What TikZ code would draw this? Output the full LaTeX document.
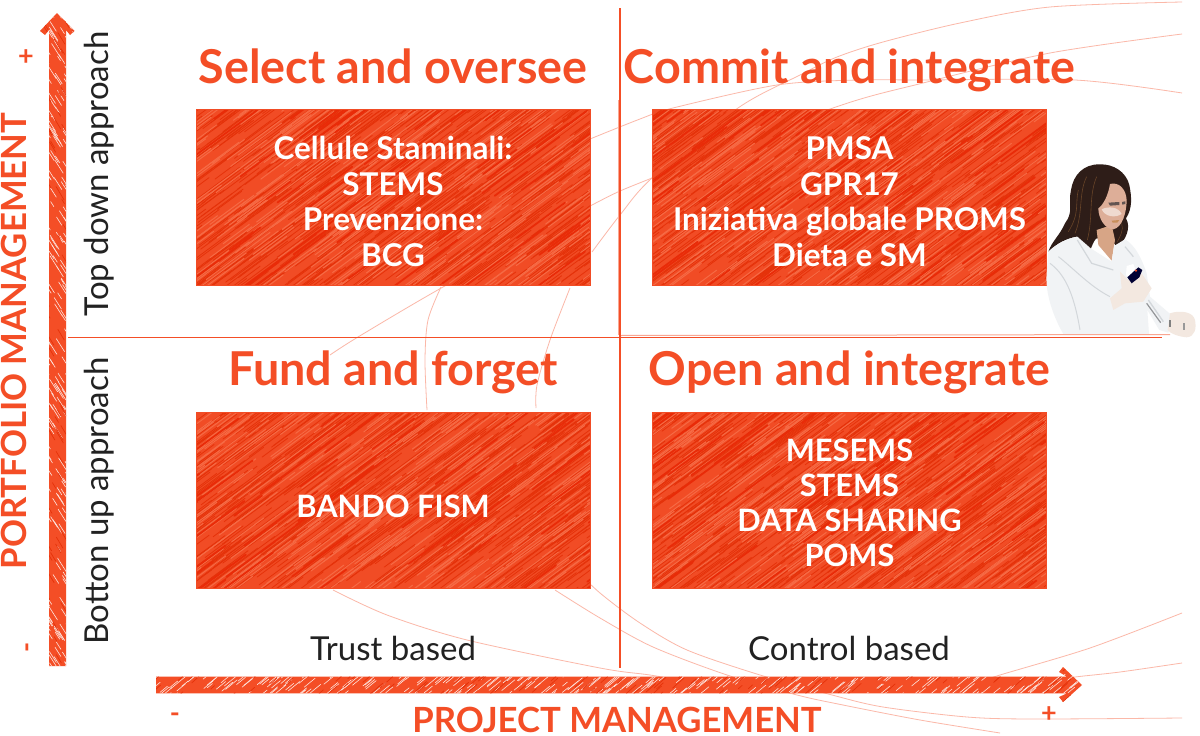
\documentclass[tikz,border=0pt]{standalone}
\usepackage{fontspec}
\setmainfont{Lato}
\definecolor{brand}{HTML}{F44E26}
\definecolor{boxbase}{HTML}{F14C25}
\definecolor{boxdark}{HTML}{E5320A}
\definecolor{boxlight}{HTML}{F66A45}
\definecolor{inkdark}{HTML}{222222}
\definecolor{hair}{HTML}{2E1D18}
\definecolor{skin}{HTML}{DDAE98}
\definecolor{coat}{HTML}{F1F3F5}
\definecolor{coatshade}{HTML}{D3D7DB}
\definecolor{glove}{HTML}{F3E8E0}
\newcommand{\streaks}[7]{% count, half w, half h, colour, width, dx, dy
  \begin{scope}[shift={(path picture bounding box.center)}]
  \foreach \s in {1,...,#1}{%
    \pgfmathsetmacro{\sx}{#2*rnd*2.4-1.2*#2}%
    \pgfmathsetmacro{\sy}{#3*rnd*2.4-1.2*#3}%
    \pgfmathsetmacro{\sk}{0.4+rnd}%
    \draw[#4,line width=#5,line cap=round] (\sx,\sy) -- +({#6*\sk},{#7*\sk});%
  }
  \end{scope}}
\newcommand{\boxtexture}{%
  \streaks{850}{198}{90}{boxdark}{0.8pt}{46}{-34}%
  \streaks{380}{198}{90}{boxlight}{1pt}{46}{-34}%
  \streaks{60}{198}{90}{boxdark!85!red}{1.8pt}{60}{-44}}
\tikzset{
  panel/.style={minimum width=394pt,minimum height=176pt,inner sep=0pt,fill=boxbase,
    draw=boxbase,line width=0.8pt,path picture={\boxtexture}},
  paneltext/.style={text=white,inner sep=0pt,align=center,
    font=\fontsize{31.4}{35.5}\selectfont\bfseries},
  capstext/.style={text=white,inner sep=0pt,align=center,
    font=\fontsize{30.8}{35}\selectfont\bfseries},
  quadtitle/.style={anchor=base,text=brand,font=\fontsize{46.7}{50}\selectfont\bfseries,inner sep=0pt},
  axistitle/.style={anchor=base,text=brand,font=\fontsize{34.7}{36}\selectfont\bfseries,inner sep=0pt,text depth=0pt},
  approach/.style={anchor=base,text=inkdark,font=\fontsize{33}{36}\selectfont,inner sep=0pt},
  sign/.style={text=brand,font=\fontsize{27}{27}\selectfont\bfseries,inner sep=0pt},
  axisline/.style={brand,line width=1.5pt},
  thread/.style={brand!40,line width=0.8pt,smooth},
  arrowbody/.style={fill=brand}
}
\begin{document}
\begin{tikzpicture}[x=1pt,y=-1pt]
\pgfmathsetseed{4217}
\useasboundingbox (0,0) rectangle (1200,736);
\fill[white] (0,0) rectangle (1200,736);

% thin threads behind everything
\draw[thread] plot coordinates {(1182,2) (1050,7) (960,23) (883,42) (837,57) (800,75) (738,108) (652,178) (620,215) (592,252)};
\draw[thread] plot coordinates {(1182,34) (1050,53) (923,83) (833,108) (652,178) (592,205) (443,287) (358,337) (330,355)};
\draw[thread] plot coordinates {(1182,93) (1075,80) (923,80) (857,80) (777,85) (673,108) (640,119) (590,139)};
\draw[thread] plot coordinates {(441,287) (428,320) (425,360) (427,410)};
\draw[thread] plot coordinates {(570,288) (550,340) (537,385) (536,408)};
\draw[thread] plot coordinates {(333,590) (387,615) (467,640) (600,668) (650,675) (690,682)};
\draw[thread] plot coordinates {(555,590) (600,618) (653,647) (727,675) (797,695) (843,705) (920,720) (1000,733)};
\draw[thread] plot coordinates {(573,567) (600,593) (640,623) (687,650) (760,675) (832,695) (883,707) (967,717) (1033,719) (1182,718)};
\draw[thread] plot coordinates {(1182,613) (1090,648) (1000,675) (980,682)};
\draw[thread] plot coordinates {(1182,663) (1120,672) (1075,677) (1060,680)};

% quadrant axes
\draw[brand!50,line width=1pt] (618.5,100) -- (618.5,335);
\draw[brand!50,line width=1pt] (620,335.5) -- (1170,334.5);
\draw[axisline] (620,8) -- (620,668);
\draw[axisline] (68,337.5) -- (1162,337.5);

% axis arrows
\path[arrowbody,path picture={%
    \streaks{420}{20}{330}{white!85!brand}{0.6pt}{7}{11}%
    \streaks{180}{20}{330}{boxdark}{0.7pt}{6}{10}}]
  (57,13) -- (74.5,31) -- (70,35) -- (66,30) -- (66,666) -- (49,666) -- (49,30) -- (45,35) -- (40,31) -- cycle;
\path[arrowbody,path picture={%
    \streaks{640}{470}{20}{white!85!brand}{0.6pt}{11}{-9}%
    \streaks{280}{470}{20}{boxdark}{0.7pt}{9}{-8}}]
  (156,676.7) -- (1067,676.7) -- (1059,672) -- (1063,667) -- (1082,685) -- (1063,702) -- (1059,697) -- (1067,693.3) -- (156,693.3) -- cycle;

% panels
\node[panel] (p1) at (393,197.5) {};
\node[panel] (p2) at (849.5,197.5) {};
\node[panel] (p3) at (393,500.5) {};
\node[panel] (p4) at (849.5,500.5) {};
\node[paneltext,yshift=-4pt] (p1t) at (p1) {Cellule Staminali:\\STEMS\\Prevenzione:\\BCG};
\node[paneltext,yshift=-4pt] (p2t) at (p2) {PMSA\\GPR17\\Iniziativa globale PROMS\\Dieta e SM};
\node[capstext,yshift=-5.5pt] (p3t) at (p3) {BANDO FISM};
\node[capstext,yshift=-2.5pt] (p4t) at (p4) {MESEMS\\STEMS\\DATA SHARING\\POMS};

% quadrant titles
\node[quadtitle] (t1) at (393,83.5) {Select and oversee};
\node[quadtitle] (t2) at (849.5,83.5) {Commit and integrate};
\node[quadtitle] (t3) at (393,385.5) {Fund and forget};
\node[quadtitle] (t4) at (849.5,385.5) {Open and integrate};

% axis labels
\node[axistitle,rotate=90] (ya) at (26,341) {PORTFOLIO MANAGEMENT};
\node[axistitle] (xa) at (617,732) {PROJECT MANAGEMENT};
\node[approach,rotate=90] (yt) at (108,174) {Top down approach};
\node[approach,rotate=90] (yb) at (108,501) {Botton up approach};
\node[approach] (xt) at (393,660) {Trust based};
\node[approach] (xc) at (849,660) {Control based};
\node[sign] (yp) at (26,58) {+};
\node[sign,rotate=90] (ym) at (30.5,647) {-};
\node[sign] (xm) at (175,718) {-};
\node[sign] (xp) at (1049,715) {+};

% the researcher
\begin{scope}[shift={(1000,140)},x=0.3333pt,y=-0.3333pt]
  % hair behind
  \fill[hair] (300,73) .. controls (250,72) and (220,105) .. (213,150)
     .. controls (204,190) and (222,215) .. (195,250)
     .. controls (180,285) and (155,305) .. (145,335)
     .. controls (170,310) and (200,295) .. (230,290)
     .. controls (245,300) and (255,320) .. (268,338)
     .. controls (275,320) and (280,305) .. (288,296)
     -- (330,290)
     .. controls (335,305) and (345,315) .. (355,322)
     .. controls (375,300) and (395,265) .. (378,235)
     .. controls (398,205) and (395,170) .. (388,135)
     .. controls (378,95) and (340,72) .. (300,73) -- cycle;
  \draw[hair!60!brown,line width=0.6pt] (260,110) .. controls (235,160) and (250,220) .. (225,280);
  \draw[hair!60!brown,line width=0.6pt] (290,110) .. controls (265,170) and (280,230) .. (262,300);
  \draw[hair!60!brown,line width=0.6pt] (235,150) .. controls (225,190) and (240,220) .. (205,275);
  \draw[hair!60!brown,line width=0.5pt] (365,250) .. controls (372,270) and (360,290) .. (352,305);
  % neck and face
  \fill[skin!80!brown] (290,270) -- (335,255) -- (345,300) -- (335,362) -- (295,315) -- cycle;
  \fill[skin] (330,132) .. controls (355,125) and (378,145) .. (380,180)
     .. controls (380,215) and (368,262) .. (340,268)
     .. controls (315,268) and (295,235) .. (295,205)
     .. controls (310,195) and (325,165) .. (330,132) -- cycle;
  \fill[hair!75] (325,188) -- (358,186) -- (358,195) -- (330,197) -- cycle;
  \fill[hair!75] (366,186) -- (376,184) -- (376,192) -- (367,194) -- cycle;
  \fill[white,opacity=.55] (305,208) .. controls (325,198) and (355,200) .. (365,222) .. controls (345,235) and (315,230) .. (305,208) -- cycle;
  \fill[brown!70!skin] (335,242) -- (358,240) -- (352,248) -- (338,248) -- cycle;
  % coat
  \fill[coat] (145,335) .. controls (170,312) and (195,298) .. (232,290)
     -- (272,325) -- (335,365) -- (342,318) -- (375,298)
     .. controls (405,315) and (425,355) .. (440,400)
     -- (450,470) -- (520,530) -- (505,578) -- (478,570) -- (442,510) -- (447,582)
     -- (190,582) .. controls (160,530) and (135,460) .. (140,400) -- cycle;
  \draw[coatshade,line width=1.2pt] (232,300) -- (275,370) -- (340,390);
  \draw[coatshade,line width=1pt] (150,370) .. controls (190,400) and (220,450) .. (240,570);
  \draw[coatshade,line width=1pt] (175,350) .. controls (215,380) and (270,440) .. (330,470);
  \draw[coatshade,line width=1.2pt] (375,320) -- (400,350);
  \draw[coatshade,line width=1.4pt] (445,480) -- (490,545);
  \draw[coatshade!70!black,line width=1.2pt] (440,490) -- (482,548);
  % gloves and pipette
  \fill[glove] (360,395) -- (385,420) -- (425,400) -- (455,445) -- (430,485) -- (375,490) -- (340,510) -- (330,475) -- (365,445) -- cycle;
  \fill[glove] (510,520) .. controls (540,510) and (580,515) .. (585,540)
     .. controls (590,565) and (585,590) .. (560,592)
     .. controls (535,590) and (510,580) .. (503,570) -- cycle;
  \fill[white] (380,378) -- (400,372) -- (405,385) -- (385,415) -- (378,405) -- cycle;
  \fill[black!80!blue] (382,412) -- (415,382) -- (427,390) -- (418,412) -- (395,430) -- cycle;
  \fill[brand] (408,392) circle (4);
  \fill[black!50] (508,540) rectangle (514,560);
  \fill[black!40] (548,548) rectangle (555,570);
\end{scope}
\end{tikzpicture}
\end{document}
